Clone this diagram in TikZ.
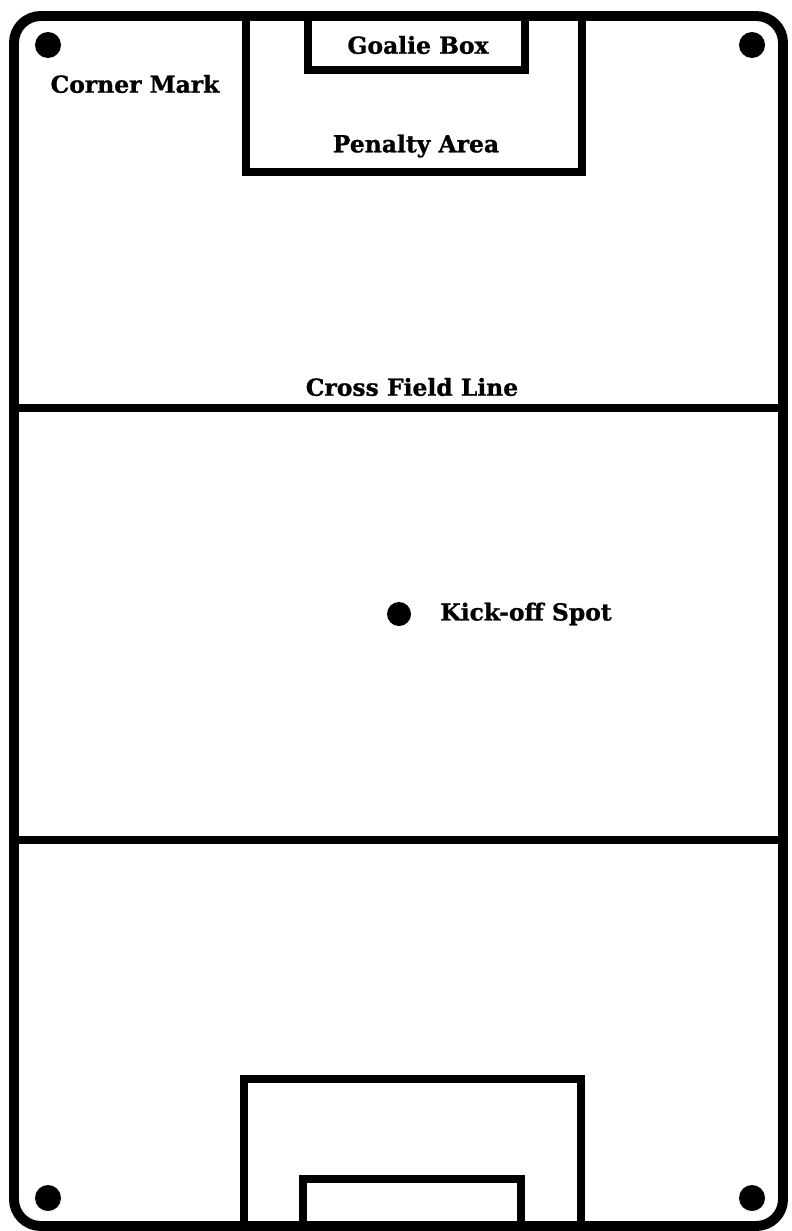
\documentclass[tikz,border=0pt]{standalone}
\usepackage{fontspec}
\setmainfont[BoldFeatures={FakeBold=1}]{DejaVu Serif}
\usetikzlibrary{positioning}

\begin{document}
\begin{tikzpicture}[x=0.03cm,y=-0.03cm,
   fieldline/.style={line width=8.5pt},
   markline/.style={line width=7.5pt,line join=miter},
   spotdot/.style={circle,fill=black,inner sep=0pt,minimum size=0.78cm},
   lbl/.style={font=\fontsize{20}{23}\selectfont\bfseries}]
  \useasboundingbox (0,0) rectangle (792,1231);
  % field outline and cross lines
  \draw[fieldline,rounded corners=0.8cm] (14,16) rectangle (783,1226);
  \draw[markline] (14,408) -- (783,408);
  \draw[markline] (14,840) -- (783,840);
  % top end
  \draw[markline] (246,16) -- (246,172) -- (582,172) -- (582,16);
  \draw[markline] (308,16) -- (308,70) -- (525,70) -- (525,16);
  % bottom end
  \draw[markline] (244,1226) -- (244,1079) -- (581,1079) -- (581,1226);
  \draw[markline] (303,1226) -- (303,1179) -- (521,1179) -- (521,1226);
  % corner marks and kick-off spot
  \node[spotdot] (cnw) at (48,45) {};
  \node[spotdot] (cne) at (752,45) {};
  \node[spotdot] (csw) at (48,1198) {};
  \node[spotdot] (cse) at (752,1198) {};
  \node[spotdot,minimum size=0.72cm] (kick) at (399,614) {};
  % labels
  \node[lbl] (cornerlbl) at (135,84) {Corner Mark};
  \node[lbl] (goalielbl) at (418,45) {Goalie Box};
  \node[lbl] (penaltylbl) at (416,146) {Penalty Area};
  \node[lbl] (crosslbl) at (412,387) {Cross Field Line};
  \node[lbl,right=0.75cm of kick] (kicklbl) {Kick-off Spot};
\end{tikzpicture}
\end{document}
